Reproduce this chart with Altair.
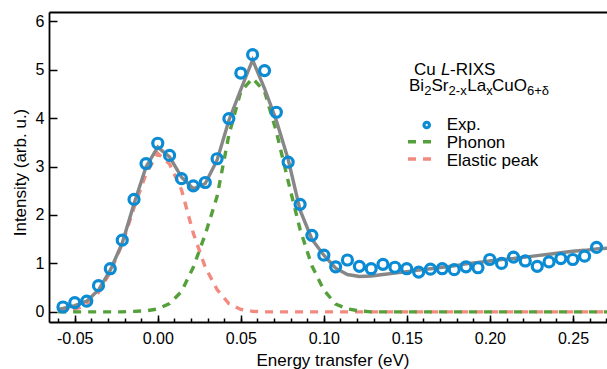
import altair as alt
import pandas as pd

# ---------------- values ----------------
energy = [-0.0571, -0.0500, -0.0428, -0.0357, -0.0286, -0.0214, -0.0143, -0.0071,
          0.0000, 0.0071, 0.0143, 0.0214, 0.0286, 0.0357, 0.0428, 0.0500,
          0.0571, 0.0643, 0.0714, 0.0785, 0.0857, 0.0928, 0.1000, 0.1071,
          0.1142, 0.1214, 0.1285, 0.1356, 0.1428, 0.1499, 0.1571, 0.1642,
          0.1713, 0.1785, 0.1856, 0.1928, 0.1999, 0.2070, 0.2142, 0.2213,
          0.2285, 0.2356, 0.2427, 0.2499, 0.2570, 0.2642]

exp_intensity = [0.10, 0.19, 0.22, 0.54, 0.89, 1.48, 2.32, 3.06,
                 3.48, 3.23, 2.75, 2.60, 2.67, 3.16, 3.99, 4.93,
                 5.31, 4.98, 4.12, 3.09, 2.22, 1.58, 1.17, 0.93,
                 1.07, 0.94, 0.89, 0.98, 0.92, 0.89, 0.82, 0.88,
                 0.89, 0.87, 0.93, 0.91, 1.08, 1.00, 1.13, 1.05,
                 0.94, 1.03, 1.10, 1.08, 1.15, 1.33]

model_energy = [-0.0600, -0.0571, -0.0500, -0.0428, -0.0357, -0.0286, -0.0214, -0.0143, -0.0071,
                0.0000, 0.0071, 0.0143, 0.0214, 0.0286, 0.0357, 0.0428, 0.0500,
                0.0571, 0.0643, 0.0714, 0.0785, 0.0857, 0.0928, 0.1000, 0.1071,
                0.1142, 0.1214, 0.1285, 0.1356, 0.1428, 0.1499, 0.1571, 0.1642,
                0.1713, 0.1785, 0.1856, 0.1928, 0.1999, 0.2070, 0.2142, 0.2213,
                0.2285, 0.2356, 0.2427, 0.2499, 0.2570, 0.2642, 0.2750]

fit_total = [0.05, 0.07, 0.13, 0.22, 0.45, 0.86, 1.42, 2.23, 2.99,
             3.40, 3.20, 2.78, 2.54, 2.65, 3.13, 3.95, 4.59,
             5.20, 4.61, 3.95, 3.15, 2.10, 1.50, 1.17, 0.90,
             0.77, 0.73, 0.74, 0.77, 0.80, 0.83, 0.86, 0.89,
             0.92, 0.95, 0.99, 1.02, 1.05, 1.08, 1.10, 1.13,
             1.16, 1.19, 1.22, 1.25, 1.27, 1.30, 1.32]

phonon = [0.00, 0.00, 0.00, 0.00, 0.00, 0.00, 0.00, 0.01, 0.02,
          0.06, 0.17, 0.42, 0.92, 1.60, 2.38, 3.65, 4.55,
          4.82, 4.55, 3.72, 2.70, 1.70, 0.95, 0.45, 0.16,
          0.06, 0.02, 0.00, 0.00, 0.00, 0.00, 0.00, 0.00,
          0.00, 0.00, 0.00, 0.00, 0.00, 0.00, 0.00, 0.00,
          0.00, 0.00, 0.00, 0.00, 0.00, 0.00, 0.00]

elastic = [0.01, 0.02, 0.05, 0.14, 0.40, 0.82, 1.40, 2.15, 2.85,
           3.27, 3.05, 2.52, 1.62, 0.92, 0.46, 0.17, 0.05,
           0.01, 0.00, 0.00, 0.00, 0.00, 0.00, 0.00, 0.00,
           0.00, 0.00, 0.00, 0.00, 0.00, 0.00, 0.00, 0.00,
           0.00, 0.00, 0.00, 0.00, 0.00, 0.00, 0.00, 0.00,
           0.00, 0.00, 0.00, 0.00, 0.00, 0.00, 0.00]

x_major_values = [-0.05, 0.00, 0.05, 0.10, 0.15, 0.20, 0.25]
x_minor_values = [-0.06, -0.05, -0.04, -0.03, -0.02, -0.01, 0.00, 0.01, 0.02, 0.03,
                  0.04, 0.05, 0.06, 0.07, 0.08, 0.09, 0.10, 0.11, 0.12, 0.13,
                  0.14, 0.15, 0.16, 0.17, 0.18, 0.19, 0.20, 0.21, 0.22, 0.23,
                  0.24, 0.25, 0.26, 0.27]
y_tick_values = [0, 1, 2, 3, 4, 5, 6]

x_title = "Energy transfer (eV)"
y_title = "Intensity (arb. u.)"
legend_labels = ["Exp.", "Phonon", "Elastic peak"]

# ---------------- styling ----------------
BLUE = "#0b8bd3"
GREEN = "#55a03a"
PINK = "#f28a80"
GRAY = "#878787"
FONT = "Liberation Sans"
PAD_L, PAD_T = 49, 12
W, H = 558, 310

exp_df = pd.DataFrame({"energy": energy, "intensity": exp_intensity})
model_df = pd.DataFrame({"energy": model_energy, "fit": fit_total,
                         "phonon": phonon, "elastic": elastic})
one = pd.DataFrame({"k": [0]})

xscale = alt.Scale(domain=[-0.0655, 0.2705], nice=False, zero=False)
yscale = alt.Scale(domain=[-0.21, 6.19], nice=False, zero=False)

label_expr = "(datum.value < 0 ? '-' : '') + format(abs(datum.value), '.2f')"

ax_main = alt.Axis(orient="bottom", values=x_major_values, labelExpr=label_expr,
                   ticks=False, tickSize=0, domain=True, labelPadding=8,
                   labelFlush=False, title=x_title, titleX=283.5, titleY=43,
                   titleBaseline="alphabetic", grid=False)
ax_major = alt.Axis(orient="bottom", values=x_major_values, labels=False, domain=False,
                    ticks=True, tickSize=7, offset=-7, title="", grid=False)
ax_minor = alt.Axis(orient="bottom", values=x_minor_values, labels=False, domain=False,
                    ticks=True, tickSize=4, offset=-4, title="", grid=False)
ax_top = alt.Axis(orient="top", labels=False, ticks=False, domain=True, title="", grid=False)
ay_main = alt.Axis(orient="left", values=y_tick_values, ticks=False, tickSize=0,
                   labelPadding=5, title=y_title, titleX=-24, titleY=160,
                   titleBaseline="alphabetic", grid=False)
ay_ticks = alt.Axis(orient="left", values=y_tick_values, labels=False, domain=False,
                    ticks=True, tickSize=8, offset=-8, title="", grid=False)

elastic_line = alt.Chart(model_df).mark_line(
    color=PINK, strokeWidth=3.4, strokeDash=[8, 7], clip=True
).encode(
    x=alt.X("energy:Q", scale=xscale, axis=ax_major),
    y=alt.Y("elastic:Q", scale=yscale, axis=ay_ticks),
)

phonon_line = alt.Chart(model_df).mark_line(
    color=GREEN, strokeWidth=3.4, strokeDash=[8, 7], clip=True
).encode(
    x=alt.X("energy:Q", scale=xscale, axis=ax_minor),
    y=alt.Y("phonon:Q", scale=yscale, axis=None),
)

fit_line = alt.Chart(model_df).mark_line(
    color=GRAY, strokeWidth=3.4, clip=True
).encode(
    x=alt.X("energy:Q", scale=xscale, axis=ax_main),
    y=alt.Y("fit:Q", scale=yscale, axis=ay_main),
)

exp_points = alt.Chart(exp_df).mark_point(
    shape="circle", filled=False, color=BLUE, size=100, strokeWidth=3.2,
    opacity=1, clip=True
).encode(
    x=alt.X("energy:Q", scale=xscale, axis=ax_top),
    y=alt.Y("intensity:Q", scale=yscale, axis=None),
)


def txt(s, px, py, size=17, style="normal"):
    return alt.Chart(one).mark_text(
        text=s, align="left", baseline="alphabetic", font=FONT,
        fontSize=size, fontStyle=style, color="black"
    ).encode(x=alt.value(px - PAD_L), y=alt.value(py - PAD_T))


annotations = [
    txt("Cu", 414, 74.5),
    txt("L", 441, 74.5, style="italic"),
    txt("-RIXS", 450, 74.5),
    txt("Bi", 409, 91),
    txt("2", 424.3, 94.5, 13),
    txt("Sr", 431.5, 91),
    txt("2-x", 448.6, 94.5, 13),
    txt("La", 467.2, 91),
    txt("x", 486.3, 94.5, 13),
    txt("CuO", 492, 91),
    txt("6+δ", 527, 94.5, 13),
    txt(legend_labels[0], 446.7, 130),
    txt(legend_labels[1], 446.7, 147.5),
    txt(legend_labels[2], 446.7, 165.5),
]

legend_marks = [
    alt.Chart(one).mark_point(shape="circle", filled=False, color=BLUE,
                              size=30, strokeWidth=3.2, opacity=1).encode(
        x=alt.value(426.7 - PAD_L), y=alt.value(125 - PAD_T)),
    alt.Chart(one).mark_rule(color=GREEN, strokeWidth=3.4, strokeDash=[8, 7]).encode(
        x=alt.value(408 - PAD_L), x2=alt.value(434 - PAD_L), y=alt.value(141.7 - PAD_T)),
    alt.Chart(one).mark_rule(color=PINK, strokeWidth=3.4, strokeDash=[8, 7]).encode(
        x=alt.value(408 - PAD_L), x2=alt.value(434 - PAD_L), y=alt.value(159 - PAD_T)),
]

chart = alt.layer(
    elastic_line, phonon_line, fit_line, exp_points, *legend_marks, *annotations
).resolve_axis(
    x="independent", y="independent"
).properties(
    width=W, height=H,
    autosize=alt.AutoSizeParams(type="none"),
    padding={"left": PAD_L, "top": PAD_T, "right": 0, "bottom": 369 - PAD_T - H},
    background="white",
).configure_axis(
    domainColor="black", domainWidth=1.8, tickColor="black", tickWidth=1.5,
    labelColor="black", titleColor="black", labelFont=FONT, titleFont=FONT,
    labelFontSize=16, titleFontSize=17, titleFontWeight="normal", grid=False,
).configure_view(strokeWidth=0)

chart.save("out.html", embed_options={"renderer": "svg", "actions": False})
